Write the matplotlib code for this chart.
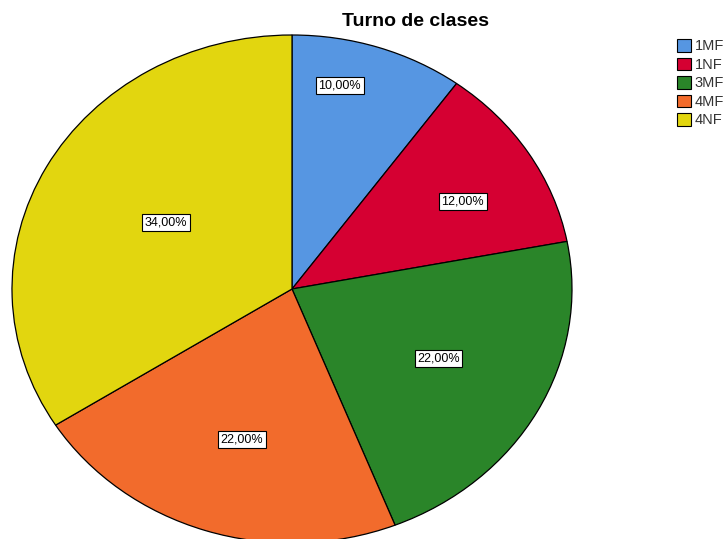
import numpy as np
import matplotlib
matplotlib.use("Agg")
import matplotlib.pyplot as plt
from matplotlib.patches import Patch

plt.rcParams['font.family'] = ['Liberation Sans', 'DejaVu Sans']

categories = ["1MF", "1NF", "3MF", "4MF", "4NF"]
percentages = [10.0, 12.0, 22.0, 22.0, 34.0]
colors = ["#5696E2", "#D50032", "#2A8529", "#F26B2C", "#E2D60F"]
label_radius = [0.82, 0.70, 0.59, 0.62, 0.52]
label_angle_shift = [6.0, -3.0, 1.2, 1.3, -1.2]
title = "Turno de clases"

W, H = 728, 539
fig = plt.figure(figsize=(W / 100, H / 100), dpi=100)
# pie ellipse spans x 12..572, y 35..543 (pixels)
ax = fig.add_axes([12 / W, (H - 543) / H, 560 / W, 508 / H])
wedges, _ = ax.pie(percentages, colors=colors, startangle=90, counterclock=False,
                   radius=1.0, wedgeprops=dict(edgecolor="black", linewidth=0.9))
ax.set_aspect('auto')
ax.set_xlim(-1, 1)
ax.set_ylim(-1, 1)
ax.axis('off')

for w, r, s, p in zip(wedges, label_radius, label_angle_shift, percentages):
    ang = np.deg2rad((w.theta1 + w.theta2) / 2 + s)
    ax.text(r * np.cos(ang), r * np.sin(ang), f"{p:.2f}%".replace('.', ','),
            ha='center', va='center', fontsize=9,
            bbox=dict(boxstyle='square,pad=0.2', facecolor='white',
                      edgecolor='black', linewidth=0.8))

fig.text(416 / W, 1 - 21 / H, title, ha='center', va='center',
         fontsize=14, fontweight='bold')

handles = [Patch(facecolor=c, edgecolor='black', linewidth=0.8) for c in colors]
fig.legend(handles, categories, loc='upper left',
           bbox_to_anchor=(677 / W, 1 - 39 / H), frameon=False,
           fontsize=10.5, handlelength=0.95, handleheight=0.95,
           handletextpad=0.25, labelspacing=0.29, borderaxespad=0, borderpad=0,
           labelcolor='#333333')

fig.savefig("out.png", dpi=100)
